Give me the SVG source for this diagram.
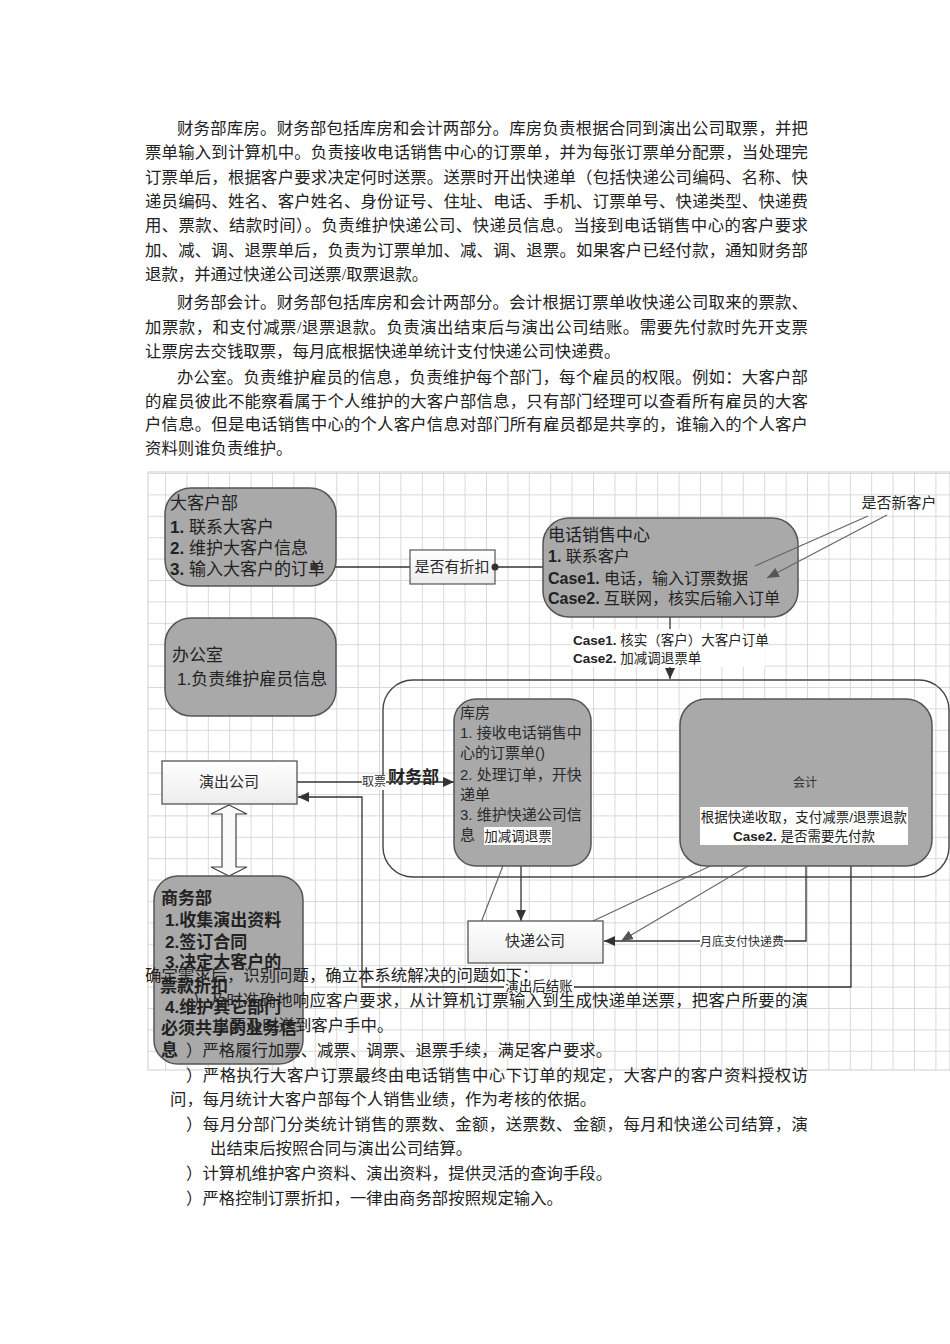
<svg xmlns="http://www.w3.org/2000/svg" width="950" height="1344" viewBox="0 0 950 1344">
<style>
.body{font-family:'Liberation Serif','Noto Sans CJK SC',serif;font-size:16.4px;fill:#222}
.box{fill:#a9a9a9;stroke:#555;stroke-width:1.5}
.t17{font-family:'Liberation Sans','Noto Sans CJK SC',sans-serif;font-size:17px;fill:#222}
.t16{font-family:'Liberation Sans','Noto Sans CJK SC',sans-serif;font-size:16px;fill:#222}
.t15{font-family:'Liberation Sans','Noto Sans CJK SC',sans-serif;font-size:15px;fill:#2a2a2a}
.t13{font-family:'Liberation Sans','Noto Sans CJK SC',sans-serif;font-size:13.5px;fill:#222}
.t12{font-family:'Liberation Sans','Noto Sans CJK SC',sans-serif;font-size:12px;fill:#333}
.b{font-weight:bold}
.ln{fill:none;stroke:#333;stroke-width:1.3}
.lg{fill:none;stroke:#666;stroke-width:1.2}
</style>
<defs>
<pattern id="grid" x="165" y="473" width="21.4" height="21.4" patternUnits="userSpaceOnUse">
<path d="M0 0.5H21.4M0.5 0V21.4" stroke="#d9d9d9" stroke-width="1" fill="none"/>
</pattern>
<marker id="arr" markerWidth="11" markerHeight="10" refX="11" refY="5" orient="auto" markerUnits="userSpaceOnUse">
<path d="M0,0 L11,5 L0,10 z" fill="#333"/>
</marker>
<marker id="arrg" markerWidth="12" markerHeight="10" refX="12" refY="5" orient="auto" markerUnits="userSpaceOnUse">
<path d="M0,0 L12,5 L0,10 z" fill="#555"/>
</marker>
<linearGradient id="wg" x1="0" y1="0" x2="0" y2="1">
<stop offset="0" stop-color="#ffffff"/>
<stop offset="1" stop-color="#ececec"/>
</linearGradient>
</defs>
<rect width="950" height="1344" fill="#fff"/>

<g id="top-text" class="body">
<text x="177" y="134" textLength="631" lengthAdjust="spacing">财务部库房。财务部包括库房和会计两部分。库房负责根据合同到演出公司取票，并把</text>
<text x="145" y="158" textLength="663" lengthAdjust="spacing">票单输入到计算机中。负责接收电话销售中心的订票单，并为每张订票单分配票，当处理完</text>
<text x="145" y="183" textLength="663" lengthAdjust="spacing">订票单后，根据客户要求决定何时送票。送票时开出快递单（包括快递公司编码、名称、快</text>
<text x="145" y="207" textLength="663" lengthAdjust="spacing">递员编码、姓名、客户姓名、身份证号、住址、电话、手机、订票单号、快递类型、快递费</text>
<text x="145" y="231" textLength="663" lengthAdjust="spacing">用、票款、结款时间）。负责维护快递公司、快递员信息。当接到电话销售中心的客户要求</text>
<text x="145" y="256" textLength="663" lengthAdjust="spacing">加、减、调、退票单后，负责为订票单加、减、调、退票。如果客户已经付款，通知财务部</text>
<text x="145" y="280">退款，并通过快递公司送票/取票退款。</text>
<text x="177" y="308" textLength="631" lengthAdjust="spacing">财务部会计。财务部包括库房和会计两部分。会计根据订票单收快递公司取来的票款、</text>
<text x="145" y="333" textLength="663" lengthAdjust="spacing">加票款，和支付减票/退票退款。负责演出结束后与演出公司结账。需要先付款时先开支票</text>
<text x="145" y="357">让票房去交钱取票，每月底根据快递单统计支付快递公司快递费。</text>
<text x="177" y="383" textLength="631" lengthAdjust="spacing">办公室。负责维护雇员的信息，负责维护每个部门，每个雇员的权限。例如：大客户部</text>
<text x="145" y="407" textLength="663" lengthAdjust="spacing">的雇员彼此不能察看属于个人维护的大客户部信息，只有部门经理可以查看所有雇员的大客</text>
<text x="145" y="430" textLength="663" lengthAdjust="spacing">户信息。但是电话销售中心的个人客户信息对部门所有雇员都是共享的，谁输入的个人客户</text>
<text x="145" y="454">资料则谁负责维护。</text>
</g>

<rect id="canvas" x="148" y="472" width="802" height="598" fill="url(#grid)" stroke="#cfcfcf" stroke-width="1"/>

<g id="caiwubu">
<rect x="383" y="680" width="566" height="197" rx="30" fill="none" stroke="#444" stroke-width="1.4"/>
<text class="t17 b" x="388" y="783">财务部</text>
</g>

<g id="connectors">
<path class="ln" d="M315,567 H410"/>
<path class="ln" d="M495,567 H543"/>
<path class="ln" d="M670,617 V679" marker-end="url(#arr)"/>
<path class="ln" d="M297,782 H454" marker-end="url(#arr)"/>
<path class="ln" d="M851,866 V987 H362 V797 H298" marker-end="url(#arr)"/>
<path class="ln" d="M806,866 V941 H604" marker-end="url(#arr)"/>
<path class="lg" d="M511,845 L480,925"/>
<path class="ln" d="M521,845 V921" marker-end="url(#arr)"/>
<path class="lg" d="M753,846 L593,921"/>
<path class="lg" d="M782,846 L621,941" marker-end="url(#arrg)"/>
<path d="M229,805 L247,814 H236 V867 H247 L229,876 L211,867 H222 V814 H211 Z" fill="#fafafa" stroke="#444" stroke-width="1.2"/>
<rect x="571" y="629" width="194" height="38" fill="#fff"/>
<text class="t13" x="573" y="645"><tspan class="b">Case1.</tspan> 核实（客户）大客户订单</text>
<text class="t13" x="573" y="663"><tspan class="b">Case2.</tspan> 加减调退票单</text>
<rect x="362" y="775" width="24" height="15" fill="#fff"/>
<text class="t12" x="374" y="786" text-anchor="middle" font-size="11.5">取票</text>
<rect x="700" y="934" width="84" height="15" fill="#fff"/>
<text class="t12" x="742" y="946" text-anchor="middle">月底支付快递费</text>
<rect x="504" y="978" width="70" height="16" fill="#fff"/>
<text class="t13" x="539" y="991" text-anchor="middle">演出后结账</text>
<text class="t15" x="899" y="508" text-anchor="middle" fill="#444">是否新客户</text>
</g>

<g id="dakehubu">
<rect class="box" x="165" y="488" width="171" height="98" rx="26"/>
<text class="t17" x="170" y="509">大客户部</text>
<text class="t17" x="170" y="533"><tspan class="b">1.</tspan> 联系大客户</text>
<text class="t17" x="170" y="554"><tspan class="b">2.</tspan> 维护大客户信息</text>
<text class="t17" x="170" y="575"><tspan class="b">3.</tspan> 输入大客户的订单</text>
</g>
<circle cx="315" cy="567" r="3.5" fill="#333"/>

<g id="zhekou">
<rect x="410" y="550" width="85" height="34" fill="url(#wg)" stroke="#555" stroke-width="1.2"/>
<text class="t15" x="452" y="572" text-anchor="middle">是否有折扣</text>
</g>
<circle cx="495" cy="567" r="3.5" fill="#333"/>

<g id="dianhua">
<rect class="box" x="543" y="518" width="255" height="99" rx="26"/>
<text class="t17" x="548" y="541">电话销售中心</text>
<text class="t16" x="548" y="562"><tspan class="b">1.</tspan> 联系客户</text>
<text class="t16" x="548" y="584"><tspan class="b">Case1.</tspan> 电话，输入订票数据</text>
<text class="t16" x="548" y="604"><tspan class="b">Case2.</tspan> 互联网，核实后输入订单</text>
</g>

<g id="new-customer-lines">
<path class="lg" d="M868,516 L755,566"/>
<path class="lg" d="M887,515 L767,578" marker-end="url(#arrg)"/>
</g>

<g id="bangongshi">
<rect class="box" x="165" y="618" width="171" height="98" rx="26"/>
<text class="t17" x="172" y="661">办公室</text>
<text class="t17" x="177" y="685">1.负责维护雇员信息</text>
</g>

<g id="yanchu">
<rect x="162" y="761" width="135" height="43" fill="url(#wg)" stroke="#555" stroke-width="1.3"/>
<text class="t15" x="229" y="787" text-anchor="middle">演出公司</text>
</g>

<g id="kufang">
<rect class="box" x="454" y="699" width="137" height="167" rx="22"/>
<g class="t15">
<text x="460" y="718">库房</text>
<text x="460" y="738">1. 接收电话销售中</text>
<text x="460" y="758">心的订票单()</text>
<text x="460" y="780">2. 处理订单，开快</text>
<text x="460" y="800">递单</text>
<text x="460" y="820">3. 维护快递公司信</text>
<text x="460" y="840">息</text>
</g>
<rect x="484" y="827" width="68" height="18" fill="#fff"/>
<text class="t13" x="518" y="841" text-anchor="middle">加减调退票</text>
</g>

<g id="kuaiji">
<rect class="box" x="680" y="699" width="252" height="167" rx="26"/>
<text class="t12" x="805" y="787" text-anchor="middle">会计</text>
<rect x="700" y="807" width="208" height="38" fill="#fff"/>
<text class="t13" x="804" y="822" text-anchor="middle">根据快递收取，支付减票/退票退款</text>
<text class="t13" x="804" y="841" text-anchor="middle"><tspan class="b">Case2.</tspan> 是否需要先付款</text>
</g>

<g id="kuaidi">
<rect x="468" y="921" width="135" height="42" fill="url(#wg)" stroke="#555" stroke-width="1.3"/>
<text class="t15" x="535" y="946" text-anchor="middle">快递公司</text>
</g>

<g id="shangwubu">
<rect class="box" x="154" y="876" width="149" height="188" rx="24"/>
<g class="t17 b">
<text x="161" y="904">商务部</text>
<text x="165" y="926">1.收集演出资料</text>
<text x="165" y="948">2.签订合同</text>
<text x="165" y="968">3.决定大客户的</text>
<text x="160" y="992">票款折扣</text>
<text x="165" y="1013">4.维护其它部门</text>
<text x="161" y="1034">必须共享的业务信</text>
<text x="161" y="1056">息</text>
</g>
</g>

<g id="bottom-text" class="body">
<text x="145" y="981">确定需求后，识别问题，确立本系统解决的问题如下：</text>
<text x="193" y="1006" textLength="615" lengthAdjust="spacing">）及时准确地响应客户要求，从计算机订票输入到生成快递单送票，把客户所要的演</text>
<text x="213" y="1031">出票及时送到客户手中。</text>
<text x="186" y="1056">）严格履行加票、减票、调票、退票手续，满足客户要求。</text>
<text x="186" y="1081" textLength="622" lengthAdjust="spacing">）严格执行大客户订票最终由电话销售中心下订单的规定，大客户的客户资料授权访</text>
<text x="170" y="1105">问，每月统计大客户部每个人销售业绩，作为考核的依据。</text>
<text x="186" y="1130" textLength="622" lengthAdjust="spacing">）每月分部门分类统计销售的票数、金额，送票数、金额，每月和快递公司结算，演</text>
<text x="210" y="1154">出结束后按照合同与演出公司结算。</text>
<text x="186" y="1179">）计算机维护客户资料、演出资料，提供灵活的查询手段。</text>
<text x="186" y="1204">）严格控制订票折扣，一律由商务部按照规定输入。</text>
</g>
</svg>
